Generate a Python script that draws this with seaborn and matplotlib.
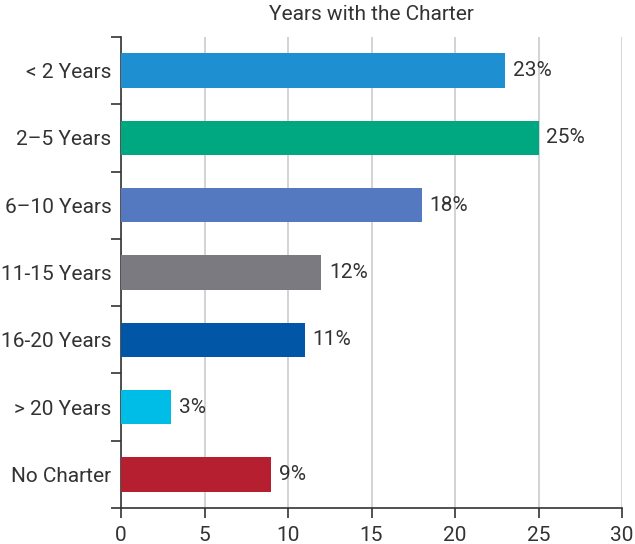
import numpy as np
import pandas as pd
import matplotlib
matplotlib.use("Agg")
import matplotlib.pyplot as plt
import seaborn as sns

categories = ["< 2 Years", "2–5 Years", "6–10 Years", "11-15 Years",
              "16-20 Years", "> 20 Years", "No Charter"]
percent = [23, 25, 18, 12, 11, 3, 9]
bar_colors = ["#1E8FD0", "#00A882", "#5479C0", "#7A7A80",
              "#0156A6", "#00BDE8", "#B61F2F"]
x_ticks = [0, 5, 10, 15, 20, 25, 30]

sns.set_style("white")
plt.rcParams['font.family'] = ['Roboto', 'DejaVu Sans']

df = pd.DataFrame({"cat": categories, "pct": percent})

fig = plt.figure(figsize=(6.35, 5.44), dpi=100)
ax = fig.add_axes([0.1906, 0.066, 0.789, 0.866])

sns.barplot(data=df, x="pct", y="cat", hue="cat", palette=bar_colors,
            width=0.51, legend=False, ax=ax, saturation=1, linewidth=0, zorder=3)

txt = "#333333"
for i, v in enumerate(percent):
    ax.text(v + 0.45, i, f"{v}%", va="center", ha="left", fontsize=15, color=txt)

ax.set_xlim(0, 30)
ax.set_ylim(len(categories) - 0.5, -0.5)
ax.set_xticks(x_ticks)
ax.set_xticklabels([str(t) for t in x_ticks], fontsize=15, color=txt)
ax.tick_params(axis="y", which="major", labelsize=15, labelcolor=txt, length=0, pad=7)
ax.set_yticks(np.arange(len(categories) + 1) - 0.5, minor=True)
ax.tick_params(axis="y", which="minor", left=True, length=7, width=1.2, color=txt, direction="out")
ax.tick_params(axis="x", bottom=True, length=7, width=1.2, color=txt, direction="out", pad=6)
ax.xaxis.grid(True, color="#cccccc", linewidth=1.2, zorder=0)
ax.set_axisbelow(True)

for s in ["top", "right"]:
    ax.spines[s].set_visible(False)
for s in ["left", "bottom"]:
    ax.spines[s].set_color(txt)
    ax.spines[s].set_linewidth(1.2)

ax.set_xlabel("")
ax.set_ylabel("")
ax.set_title("Years with the Charter", fontsize=15, color=txt, pad=12)

fig.savefig("out.png", dpi=100)
